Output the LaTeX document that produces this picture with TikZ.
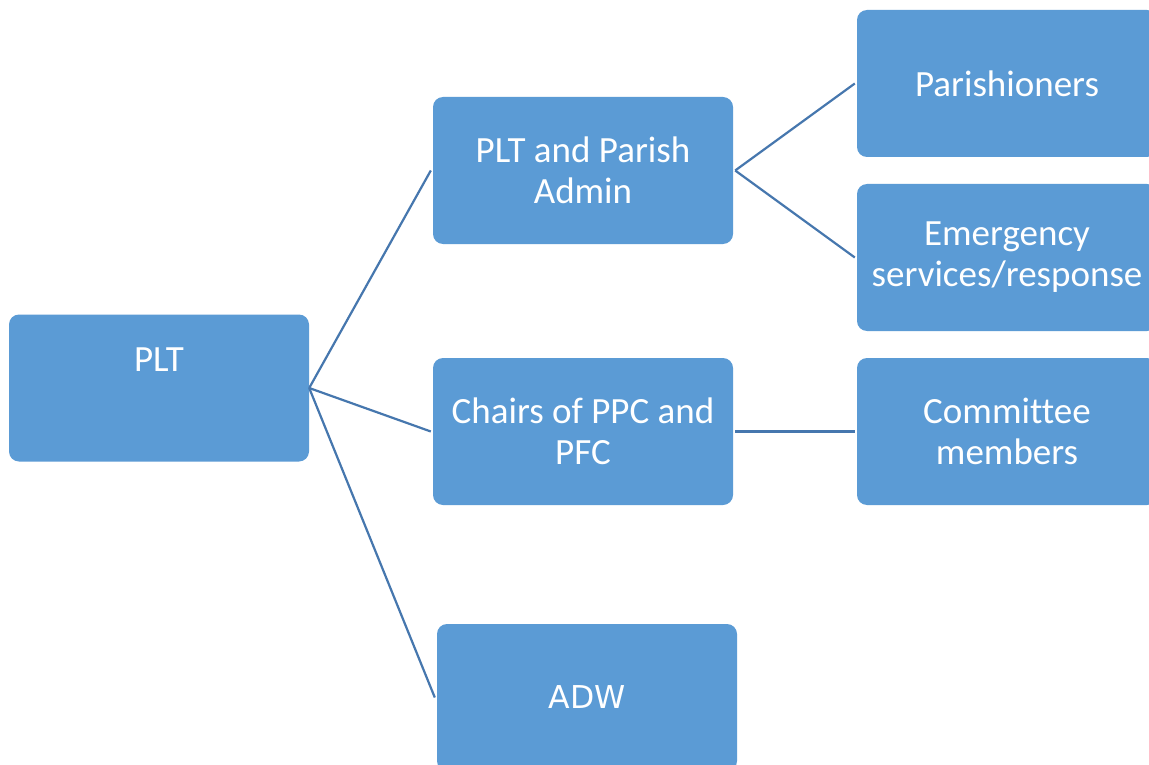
\documentclass[tikz,border=0pt]{standalone}
\usepackage{fontspec}
\setmainfont[Ligatures=NoCommon]{Carlito}
\newfontfamily\adwfont{DejaVu Sans}
\definecolor{boxblue}{HTML}{5B9BD5}
\definecolor{lineblue}{HTML}{4677AE}
\tikzset{
  orgbox/.style={rectangle, rounded corners=10pt, fill=boxblue, draw=none,
    minimum width=300pt, minimum height=147pt, inner sep=0pt,
    text=white, align=center, font=\fontsize{37}{41}\selectfont},
  orgtext/.style={text=white, inner sep=0pt, font=\fontsize{37}{41}\selectfont},
  link/.style={draw=lineblue, line width=2.2pt}
}
\begin{document}
\begin{tikzpicture}[x=1pt,y=-1pt]
\path[use as bounding box, clip] (0,0) rectangle (1149,765);
\fill[white] (0,0) rectangle (1149,765);
\node[orgbox] (plt) at (159,388) {};
\node[orgtext] (plttext) at (159,360) {PLT};
\node[orgbox] (pa) at (583,170.5) {PLT and Parish\\Admin};
\node[orgbox] (cp) at (583,431.5) {Chairs of PPC and\\PFC};
\node[orgbox, font=\adwfont\fontsize{31.5}{38}\selectfont] (adw) at (587,697.5) {ADW};
\node[orgbox] (par) at (1007,83.5) {Parishioners};
\node[orgbox] (em) at (1007,257.5) {Emergency\\services/response};
\node[orgbox] (cm) at (1007,431.5) {Committee\\members};
\draw[link] (plt.east) -- ([xshift=-2pt]pa.west);
\draw[link] (plt.east) -- ([xshift=-2pt]cp.west);
\draw[link] (plt.east) -- ([xshift=-2pt]adw.west);
\draw[link] ([xshift=2pt]pa.east) -- ([xshift=-2pt]par.west);
\draw[link] ([xshift=2pt]pa.east) -- ([xshift=-2pt]em.west);
\draw[link] ([xshift=2pt]cp.east) -- ([xshift=-2pt]cm.west);
\end{tikzpicture}
\end{document}
